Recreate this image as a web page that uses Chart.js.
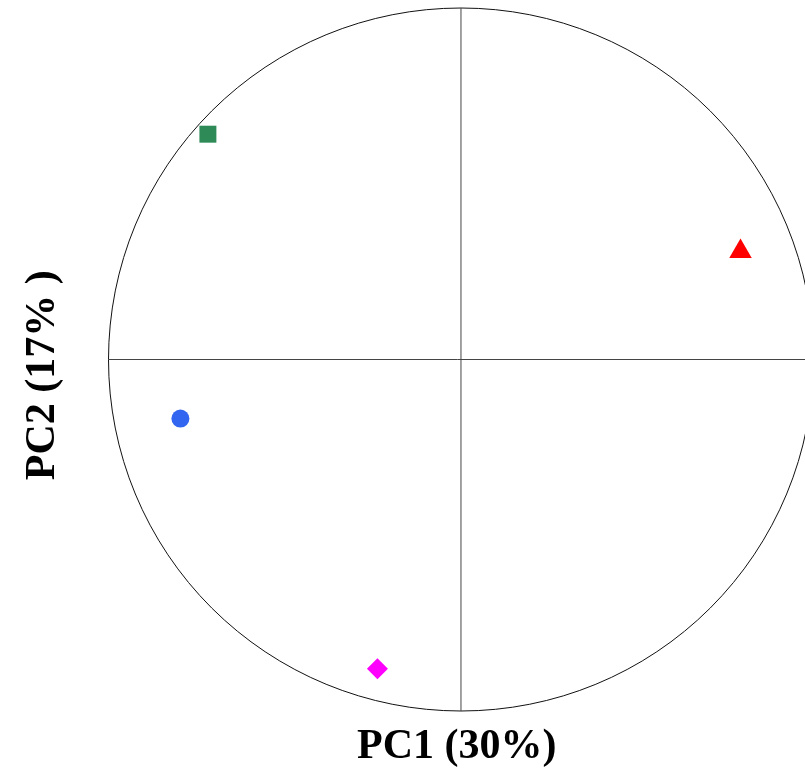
<!DOCTYPE html>
<html>
<head>
<meta charset="utf-8">
<script src="https://cdn.jsdelivr.net/npm/chart.js@4/dist/chart.umd.min.js"></script>
<style>
  html, body { margin: 0; padding: 0; background: #fff; }
  #wrap { width: 805px; height: 780px; }
</style>
</head>
<body>
<div id="wrap"><canvas id="chart"></canvas></div>
<script>
// scores on the first two components
const groups = ["A", "B", "C", "D"];
const pc1 = [-0.718, 0.793, -0.796, -0.237];
const pc2 = [0.641, 0.307, -0.168, -0.880];

const xTitle = "PC1 (30%)";
const yTitle = "PC2 (17% )   ";

const shapes = ["rect", "triangle", "circle", "rectRot"];
const colors = ["#2e8b57", "#ff0000", "#3366f0", "#ff00ff"];
const radii = [12, 13, 9, 10.5];

// unit circle + axis cross drawn through the scales
const circlePlugin = {
  id: "circlePlugin",
  beforeDatasetsDraw(chart) {
    const { ctx, scales: { x, y } } = chart;
    const cx = x.getPixelForValue(0);
    const cy = y.getPixelForValue(0);
    const rx = x.getPixelForValue(1) - cx;
    const ry = cy - y.getPixelForValue(1);
    ctx.save();
    ctx.strokeStyle = "#111";
    ctx.lineWidth = 1;
    ctx.beginPath();
    ctx.ellipse(cx, cy, rx, ry, 0, 0, Math.PI * 2);
    ctx.stroke();
    ctx.strokeStyle = "#444";
    ctx.beginPath();
    ctx.moveTo(x.getPixelForValue(-1), cy);
    ctx.lineTo(x.getPixelForValue(1), cy);
    ctx.moveTo(cx, y.getPixelForValue(1));
    ctx.lineTo(cx, y.getPixelForValue(-1));
    ctx.stroke();
    ctx.restore();
  }
};

const titleFont = { family: "'Liberation Serif', 'Times New Roman', serif", size: 42, weight: "bold" };

new Chart(document.getElementById("chart"), {
  type: "scatter",
  data: {
    datasets: [{
      label: "scores",
      data: groups.map((g, i) => ({ x: pc1[i], y: pc2[i] })),
      pointStyle: shapes,
      pointRadius: radii,
      pointHoverRadius: radii,
      backgroundColor: colors,
      borderColor: colors,
      borderWidth: 0
    }]
  },
  options: {
    responsive: true,
    maintainAspectRatio: false,
    animation: false,
    clip: false,
    layout: { autoPadding: false, padding: { top: 8, right: 0, bottom: 0, left: 0 } },
    plugins: { legend: { display: false }, tooltip: { enabled: false } },
    scales: {
      x: {
        type: "linear",
        min: -1,
        max: 0.976,
        ticks: { display: false },
        grid: { display: false, drawTicks: false },
        border: { display: false },
        title: { display: true, text: xTitle, color: "#000", font: titleFont, padding: { top: 10.8, bottom: 7.8 } }
      },
      y: {
        type: "linear",
        min: -1,
        max: 1,
        ticks: { display: false },
        grid: { display: false, drawTicks: false },
        border: { display: false },
        title: { display: true, text: yTitle, color: "#000", font: titleFont, padding: { top: 17.8, bottom: 40.3 } }
      }
    }
  },
  plugins: [circlePlugin]
});
</script>
</body>
</html>
